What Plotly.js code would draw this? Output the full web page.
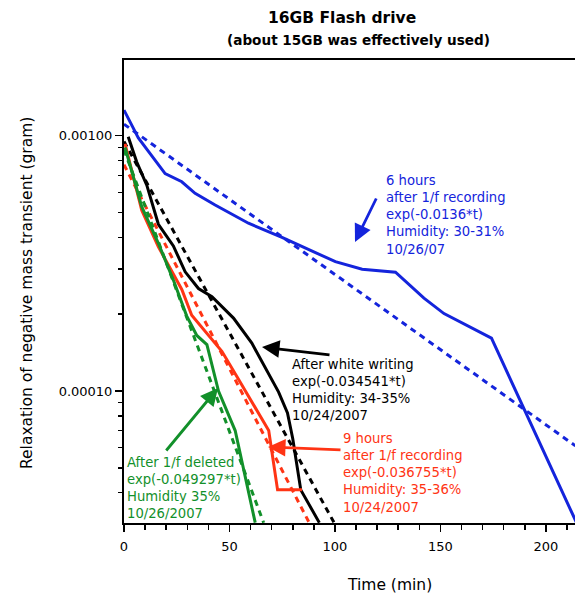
<!DOCTYPE html>
<html>
<head>
<meta charset="utf-8">
<script src="https://cdn.plot.ly/plotly-3.0.1.min.js"></script>
<style>html,body{margin:0;padding:0;background:#fff;}#chart{width:576px;height:596px;}</style>
</head>
<body>
<div id="chart"></div>
<script>
// ---- data ----
const blueT = [0, 6.8, 19.5, 27.4, 33.7, 43.2, 59, 74.9, 100.2, 112.9, 128.7, 142.2, 151.7, 174.2, 214.5];
const blueY = [1.26e-3, 9.8e-4, 7.1e-4, 6.6e-4, 5.95e-4, 5.35e-4, 4.54e-4, 4.0e-4, 3.21e-4, 3.0e-4, 2.92e-4, 2.31e-4, 2.01e-4, 1.61e-4, 3.05e-5];
const blueFitT = [0, 214];
const blueFitY = [1.11e-3, 6.1e-5];

const blackT = [2, 6, 10.8, 16.3, 23.4, 29, 35.3, 41.7, 51.9, 60.6, 73.3, 77.5, 80, 83.8, 92.6];
const blackY = [9.9e-4, 7.9e-4, 6.4e-4, 4.5e-4, 3.7e-4, 2.93e-4, 2.52e-4, 2.34e-4, 1.93e-4, 1.54e-4, 9.9e-5, 8.2e-5, 6.5e-5, 4.1e-5, 3.05e-5];
const blackFitT = [0, 99.5];
const blackFitY = [9.5e-4, 3.06e-5];

const redT = [0.5, 8.4, 16.3, 27.4, 32.1, 40, 46.4, 53.5, 68.6, 72.8, 84.4];
const redY = [9.3e-4, 5.1e-4, 3.67e-4, 2.5e-4, 1.98e-4, 1.66e-4, 1.43e-4, 1.14e-4, 7.0e-5, 4.1e-5, 4.1e-5];
const redFitT = [0, 87.6];
const redFitY = [7.7e-4, 3.07e-5];

const greenT = [0.5, 8.4, 16.3, 23.4, 29.7, 34.5, 39.3, 44.8, 52.7, 62.2];
const greenY = [9.0e-4, 5.27e-4, 3.79e-4, 2.72e-4, 1.97e-4, 1.65e-4, 1.52e-4, 1.0e-4, 7.0e-5, 3.05e-5];
const greenFitT = [0, 66.2];
const greenFitY = [8.8e-4, 3.05e-5];

const yTickVals = [1e-4, 1e-3];
const yTickText = ['0.00010', '0.00100'];
const yMinorVals = [3e-5, 4e-5, 5e-5, 6e-5, 7e-5, 8e-5, 9e-5, 2e-4, 3e-4, 4e-4, 5e-4, 6e-4, 7e-4, 8e-4, 9e-4];

const blueText = '6 hours<br>after 1/f recording<br>exp(-0.0136*t)<br>Humidity: 30-31%<br>10/26/07';
const blackText = 'After white writing<br>exp(-0.034541*t)<br>Humidity: 34-35%<br>10/24/2007';
const redText = '9 hours<br>after 1/f recording<br>exp(-0.036755*t)<br>Humidity: 35-36%<br>10/24/2007';
const greenText = 'After 1/f deleted<br>exp(-0.049297*t)<br>Humidity 35%<br>10/26/2007';

// ---- styling ----
const BLUE = '#1424dc', BLACK = '#000000', RED = '#ff3414', GREEN = '#12902a';
const FONT = 'DejaVu Sans, Verdana, sans-serif';
const W = 576, H = 596, ML = 124, MR = 1, MT = 60, MB = 73;
const PW = W - ML - MR, PH = H - MT - MB;
const px = x => (x - ML) / PW;
const py = y => (H - MB - y) / PH;

function line(t, y, color, dash) {
  return {x: t, y: y, type: 'scatter', mode: 'lines', hoverinfo: 'skip',
    line: {color: color, width: 3, dash: dash ? '6px,5px' : 'solid'}};
}
const traces = [
  line(blueFitT, blueFitY, BLUE, true), line(blueT, blueY, BLUE, false),
  line(blackFitT, blackFitY, BLACK, true), line(blackT, blackY, BLACK, false),
  line(redFitT, redFitY, RED, true), line(redT, redY, RED, false),
  line(greenFitT, greenFitY, GREEN, true), line(greenT, greenY, GREEN, false)
];

function txt(text, x, y, color) {
  return {text: text, xref: 'paper', yref: 'paper', x: px(x), y: py(y), xanchor: 'left', yanchor: 'top',
    align: 'left', showarrow: false, font: {family: FONT, size: 13.2, color: color}};
}
function arrow(xTip, yTip, xTail, yTail, color) {
  return {text: '', xref: 'paper', yref: 'paper', x: px(xTip), y: py(yTip), ax: xTail - xTip, ay: yTail - yTip,
    showarrow: true, arrowhead: 2, arrowsize: 1.25, arrowwidth: 2.8, arrowcolor: color, standoff: 0};
}

const annotations = [
  {text: '<b>16GB Flash drive</b>', xref: 'paper', yref: 'paper', x: px(342), y: py(18), xanchor: 'center', yanchor: 'middle', showarrow: false, font: {family: FONT, size: 15.5, color: '#000'}},
  {text: '<b>(about 15GB was effectively used)</b>', xref: 'paper', yref: 'paper', x: px(358), y: py(40), xanchor: 'center', yanchor: 'middle', showarrow: false, font: {family: FONT, size: 13.6, color: '#000'}},
  {text: 'Time (min)', xref: 'paper', yref: 'paper', x: px(389), y: py(585), xanchor: 'center', yanchor: 'middle', showarrow: false, font: {family: FONT, size: 15.5, color: '#000'}},
  {text: 'Relaxation of negative mass transient (gram)', xref: 'paper', yref: 'paper', x: px(27), y: py(293), xanchor: 'center', yanchor: 'middle', textangle: -90, showarrow: false, font: {family: FONT, size: 15.5, color: '#000'}},
  txt(blueText, 384, 170.5, BLUE),
  txt(blackText, 290, 355.5, BLACK),
  txt(redText, 341, 428.5, RED),
  txt(greenText, 125, 453, GREEN),
  arrow(355, 242, 377, 197, BLUE),
  arrow(262, 347, 331, 355, BLACK),
  arrow(268, 447, 342, 450, RED),
  arrow(218, 388, 165, 452, GREEN)
];

const layout = {
  width: W, height: H,
  margin: {l: ML, r: MR, t: MT, b: MB, pad: 0},
  paper_bgcolor: '#fff', plot_bgcolor: '#fff',
  showlegend: false,
  font: {family: FONT, size: 13, color: '#000'},
  xaxis: {range: [0, 213.8], showgrid: false, zeroline: false, showline: true, linecolor: '#000', linewidth: 2,
    mirror: true, ticks: 'outside', ticklen: 7, tickwidth: 1.5, tickcolor: '#000', dtick: 50, tick0: 0,
    ticklabelstandoff: 3, tickfont: {family: FONT, size: 13},
    minor: {ticks: 'outside', ticklen: 5, tickwidth: 1.5, tickcolor: '#000', dtick: 10, tick0: 0, showgrid: false}},
  xaxis2: {overlaying: 'x', matches: 'x', anchor: 'y', side: 'bottom', showgrid: false, zeroline: false, showline: false,
    ticks: 'inside', ticklen: 3, tickwidth: 1.5, tickcolor: '#000', dtick: 50, tick0: 0, showticklabels: false,
    minor: {ticks: 'inside', ticklen: 3, tickwidth: 1.5, tickcolor: '#000', dtick: 10, tick0: 0, showgrid: false}},
  yaxis: {type: 'log', range: [-4.517, -2.7035], showgrid: false, zeroline: false, showline: true, linecolor: '#000', linewidth: 2,
    mirror: false, ticks: 'outside', ticklen: 7, tickwidth: 1.5, tickcolor: '#000', tickmode: 'array',
    tickvals: yTickVals, ticktext: yTickText, tickfont: {family: FONT, size: 13},
    minor: {ticks: 'outside', ticklen: 4, tickwidth: 1.5, tickcolor: '#000', tickmode: 'array', tickvals: yMinorVals, showgrid: false}},
  annotations: annotations
};

Plotly.newPlot('chart', traces, layout, {displayModeBar: false, staticPlot: true});
</script>
</body>
</html>
